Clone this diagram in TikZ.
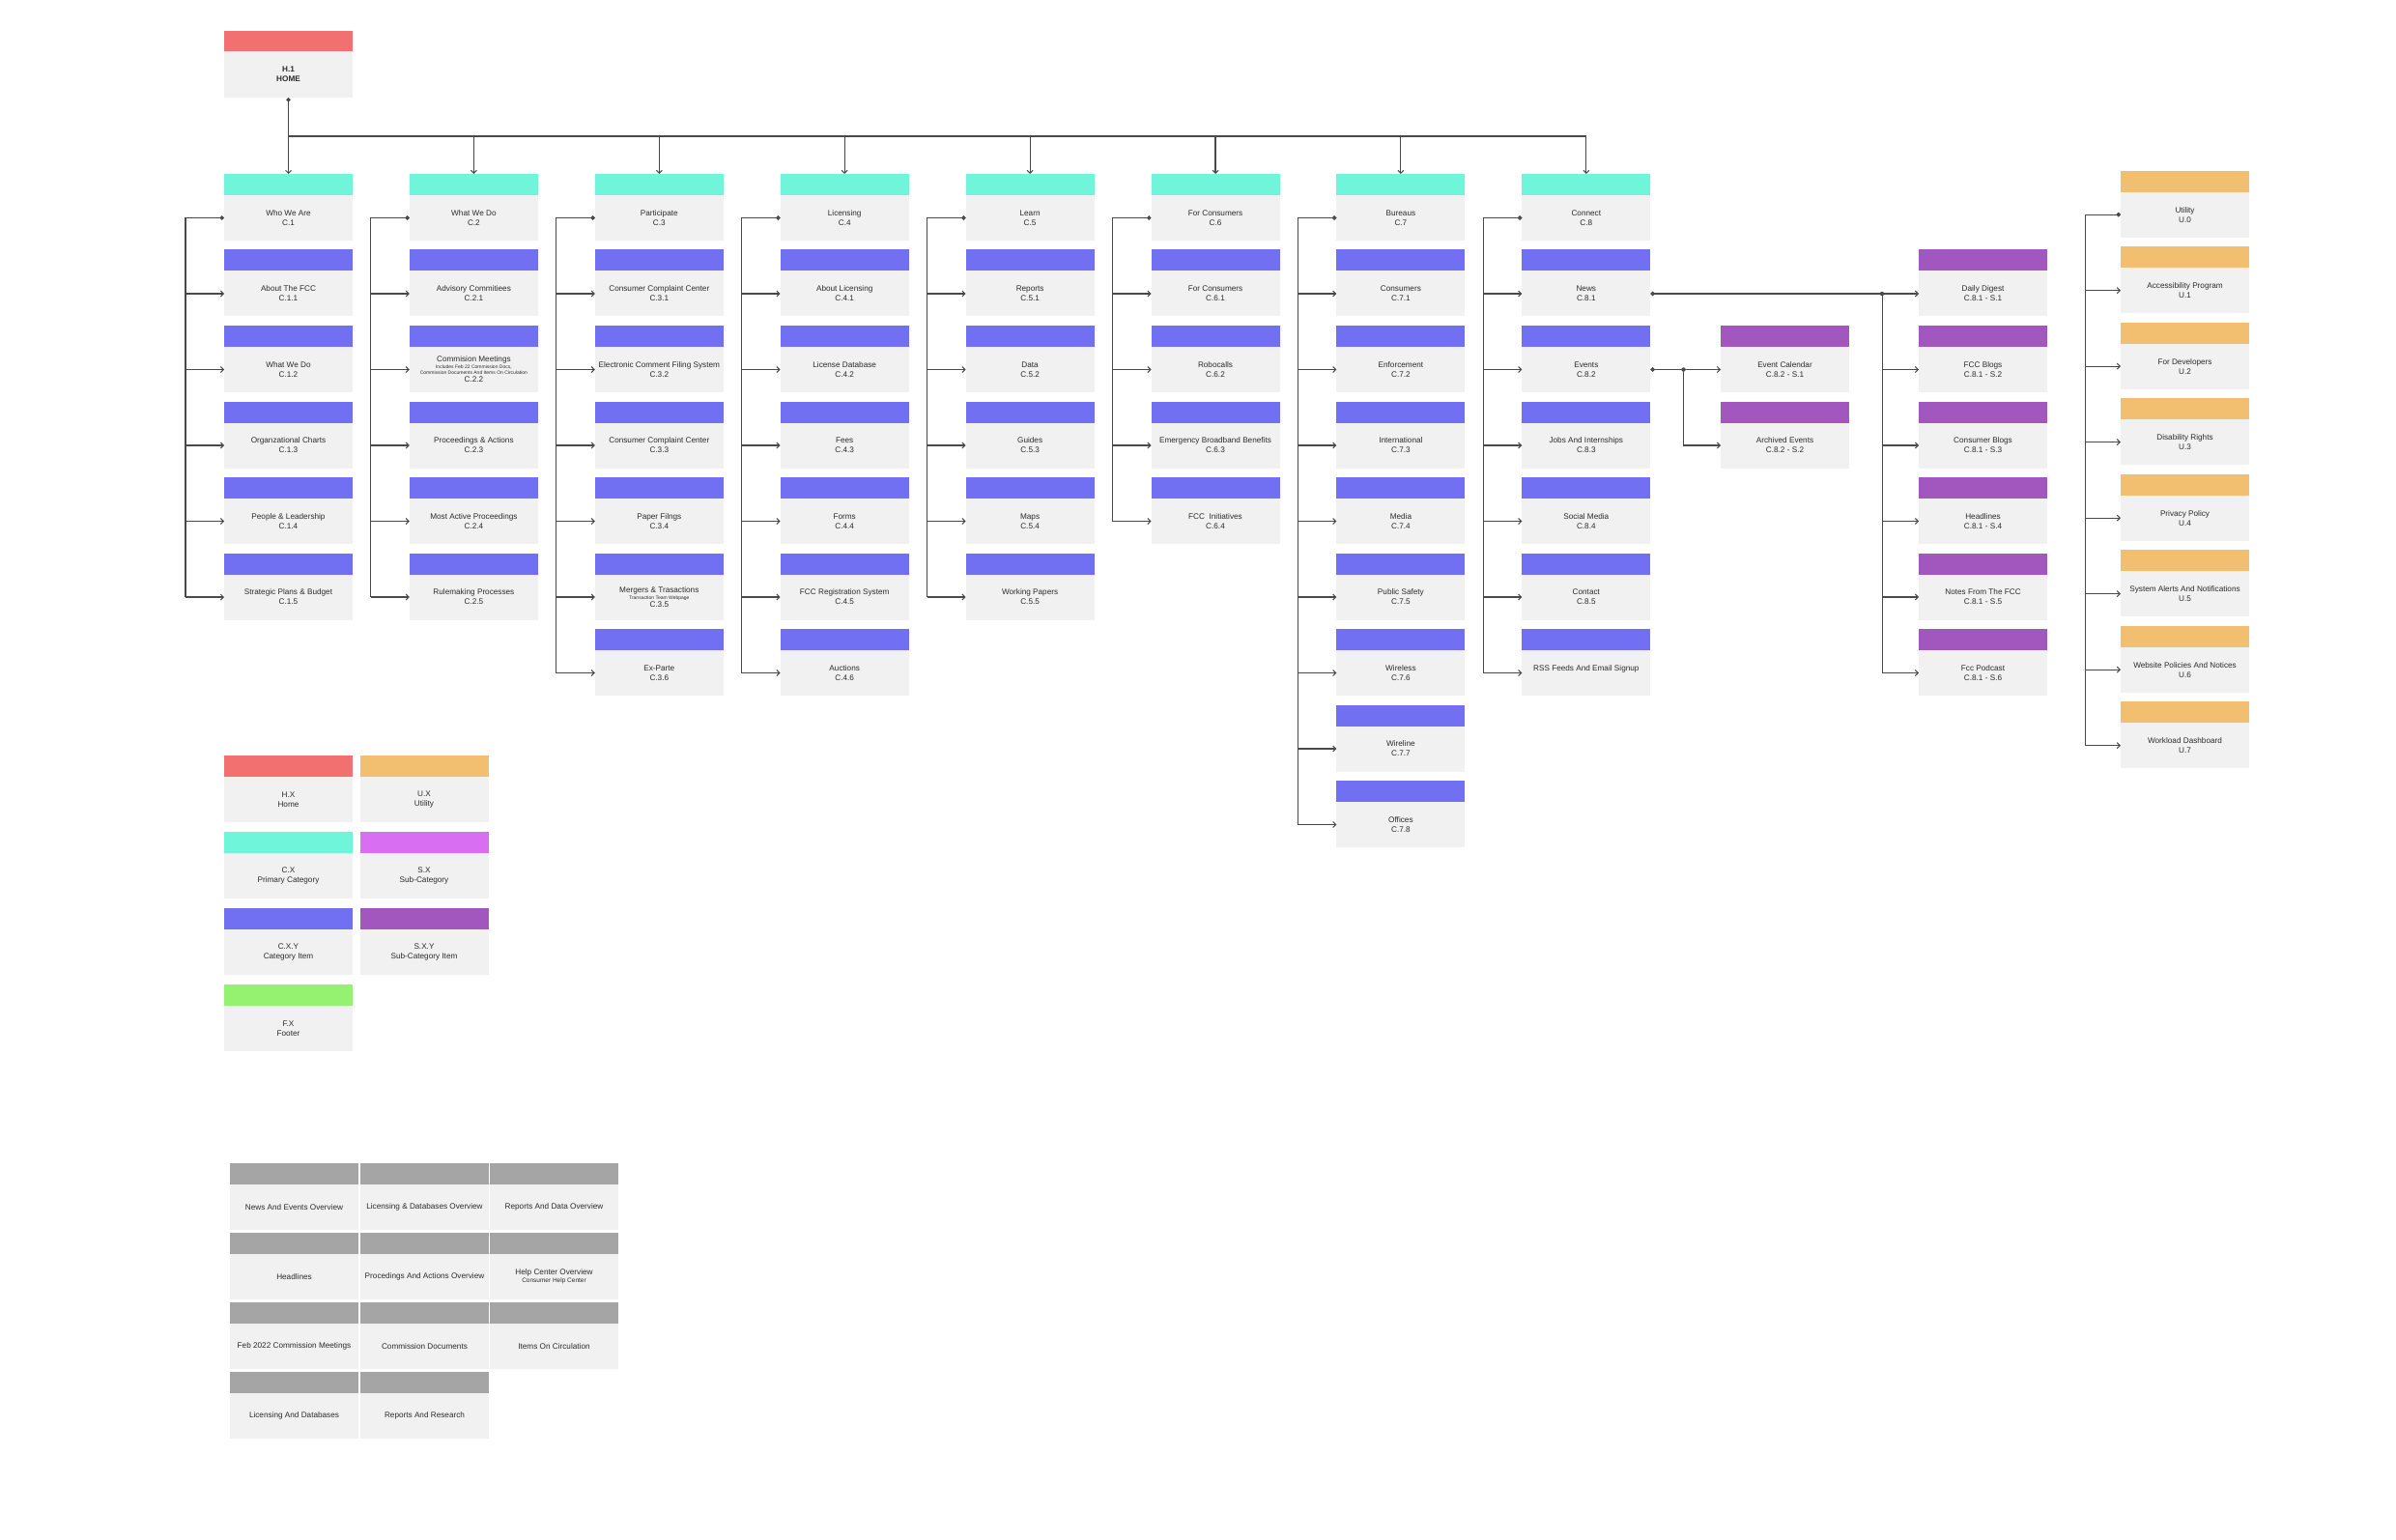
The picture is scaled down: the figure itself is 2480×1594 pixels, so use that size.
\documentclass[tikz,border=0pt]{standalone}
\usepackage{fontspec}
\setmainfont{Liberation Sans}
\usetikzlibrary{arrows.meta}
\definecolor{bodyc}{HTML}{F1F1F1}
\definecolor{txtc}{HTML}{2B2B2B}
\definecolor{linec}{HTML}{4A4A4A}
\definecolor{homec}{HTML}{F2706F}
\definecolor{catc}{HTML}{6FF5DA}
\definecolor{itemc}{HTML}{716FF2}
\definecolor{subc}{HTML}{A257BE}
\definecolor{utilc}{HTML}{F2BE6F}
\definecolor{pinkc}{HTML}{D86FF2}
\definecolor{footc}{HTML}{95F271}
\definecolor{grayc}{HTML}{A5A5A5}
\newcommand\mkbox[5]{%
  \node[bodybox] (#1) at ({#2},{#3+45.5}) {#5};
  \node[hdrbox, fill=#4, anchor=south] (#1h) at (#1.north) {};}
\newcommand\cb[5]{\mkbox{#1}{#2}{180+(#3)*78.5}{#4}{#5}}
\newcommand\ub[3]{\mkbox{#1}{2261.5}{176.6+(#2)*78.5}{utilc}{#3}}
\newcommand\trunk[3]{%
  \coordinate (#1t) at (#2,0);
  \draw[conn,{Circle[length=4.5pt]}-] (#1.west) -| (#1t |- #1#3.west);
  \foreach \i in {1,...,#3} {\draw[arr] (#1t |- #1\i.west) -- (#1\i.west);}}
\newcommand\smalltxt{\fontsize{5}{6}\selectfont}
\begin{document}
\begin{tikzpicture}[x=1pt,y=-1pt,
  bodybox/.style={fill=bodyc, minimum width=133pt, minimum height=47pt, inner sep=1pt, outer sep=0pt, align=center, text=txtc, font=\fontsize{8.2}{10}\selectfont},
  hdrbox/.style={minimum width=133pt, minimum height=22pt, inner sep=0pt, outer sep=0pt},
  conn/.style={draw=linec, line width=1.05pt},
  arr/.style={conn, -{Straight Barb[length=3pt,width=6pt]}}]
\fill[white] (0,0) rectangle (2480,1594);
\useasboundingbox (0,0) rectangle (2480,1594);

% Home
\node[bodybox, minimum height=48pt, font=\bfseries\fontsize{8.2}{10}\selectfont] (home) at (298.5,77) {H.1\\HOME};
\node[hdrbox, fill=homec, minimum height=21pt, anchor=south] (homeh) at (home.north) {};

% Column 1
\cb{c1}{298.5}{0}{catc}{Who We Are\\C.1}
\cb{c11}{298.5}{1}{itemc}{About The FCC\\C.1.1}
\cb{c12}{298.5}{2}{itemc}{What We Do\\C.1.2}
\cb{c13}{298.5}{3}{itemc}{Organzational Charts\\C.1.3}
\cb{c14}{298.5}{4}{itemc}{People \& Leadership\\C.1.4}
\cb{c15}{298.5}{5}{itemc}{Strategic Plans \& Budget\\C.1.5}
% Column 2
\cb{c2}{490.4}{0}{catc}{What We Do\\C.2}
\cb{c21}{490.4}{1}{itemc}{Advisory Commitiees\\C.2.1}
\cb{c22}{490.4}{2}{itemc}{Commision Meetings\\[-3.5pt]{\smalltxt Includes Feb 22 Commission Docs,}\\[-4pt]{\smalltxt Commission Documents And Items On Circulation}\\[-1.5pt]C.2.2}
\cb{c23}{490.4}{3}{itemc}{Proceedings \& Actions\\C.2.3}
\cb{c24}{490.4}{4}{itemc}{Most Active Proceedings\\C.2.4}
\cb{c25}{490.4}{5}{itemc}{Rulemaking Processes\\C.2.5}
% Column 3
\cb{c3}{682.3}{0}{catc}{Participate\\C.3}
\cb{c31}{682.3}{1}{itemc}{Consumer Complaint Center\\C.3.1}
\cb{c32}{682.3}{2}{itemc}{Electronic Comment Filing System\\C.3.2}
\cb{c33}{682.3}{3}{itemc}{Consumer Complaint Center\\C.3.3}
\cb{c34}{682.3}{4}{itemc}{Paper Filngs\\C.3.4}
\cb{c35}{682.3}{5}{itemc}{Mergers \& Trasactions\\[-3pt]{\smalltxt Transaction Team Webpage}\\[-1.5pt]C.3.5}
\cb{c36}{682.3}{6}{itemc}{Ex-Parte\\C.3.6}
% Column 4
\cb{c4}{874.2}{0}{catc}{Licensing\\C.4}
\cb{c41}{874.2}{1}{itemc}{About Licensing\\C.4.1}
\cb{c42}{874.2}{2}{itemc}{License Database\\C.4.2}
\cb{c43}{874.2}{3}{itemc}{Fees\\C.4.3}
\cb{c44}{874.2}{4}{itemc}{Forms\\C.4.4}
\cb{c45}{874.2}{5}{itemc}{FCC Registration System\\C.4.5}
\cb{c46}{874.2}{6}{itemc}{Auctions\\C.4.6}
% Column 5
\cb{c5}{1066.1}{0}{catc}{Learn\\C.5}
\cb{c51}{1066.1}{1}{itemc}{Reports\\C.5.1}
\cb{c52}{1066.1}{2}{itemc}{Data\\C.5.2}
\cb{c53}{1066.1}{3}{itemc}{Guides\\C.5.3}
\cb{c54}{1066.1}{4}{itemc}{Maps\\C.5.4}
\cb{c55}{1066.1}{5}{itemc}{Working Papers\\C.5.5}
% Column 6
\cb{c6}{1258.0}{0}{catc}{For Consumers\\C.6}
\cb{c61}{1258.0}{1}{itemc}{For Consumers\\C.6.1}
\cb{c62}{1258.0}{2}{itemc}{Robocalls\\C.6.2}
\cb{c63}{1258.0}{3}{itemc}{Emergency Broadband Benefits\\C.6.3}
\cb{c64}{1258.0}{4}{itemc}{FCC\ \ Initiatives\\C.6.4}
% Column 7
\cb{c7}{1449.9}{0}{catc}{Bureaus\\C.7}
\cb{c71}{1449.9}{1}{itemc}{Consumers\\C.7.1}
\cb{c72}{1449.9}{2}{itemc}{Enforcement\\C.7.2}
\cb{c73}{1449.9}{3}{itemc}{International\\C.7.3}
\cb{c74}{1449.9}{4}{itemc}{Media\\C.7.4}
\cb{c75}{1449.9}{5}{itemc}{Public Safety\\C.7.5}
\cb{c76}{1449.9}{6}{itemc}{Wireless\\C.7.6}
\cb{c77}{1449.9}{7}{itemc}{Wireline\\C.7.7}
\cb{c78}{1449.9}{8}{itemc}{Offices\\C.7.8}
% Column 8
\cb{c8}{1641.8}{0}{catc}{Connect\\C.8}
\cb{c81}{1641.8}{1}{itemc}{News\\C.8.1}
\cb{c82}{1641.8}{2}{itemc}{Events\\C.8.2}
\cb{c83}{1641.8}{3}{itemc}{Jobs And Internships\\C.8.3}
\cb{c84}{1641.8}{4}{itemc}{Social Media\\C.8.4}
\cb{c85}{1641.8}{5}{itemc}{Contact\\C.8.5}
\cb{c86}{1641.8}{6}{itemc}{RSS Feeds And Email Signup\\~}
% Event subcategories
\cb{e1}{1847.5}{2}{subc}{Event Calendar\\C.8.2 - S.1}
\cb{e2}{1847.5}{3}{subc}{Archived Events\\C.8.2 - S.2}
% News subcategories
\cb{n1}{2052.5}{1}{subc}{Daily Digest\\C.8.1 - S.1}
\cb{n2}{2052.5}{2}{subc}{FCC Blogs\\C.8.1 - S.2}
\cb{n3}{2052.5}{3}{subc}{Consumer Blogs\\C.8.1 - S.3}
\cb{n4}{2052.5}{4}{subc}{Headlines\\C.8.1 - S.4}
\cb{n5}{2052.5}{5}{subc}{Notes From The FCC\\C.8.1 - S.5}
\cb{n6}{2052.5}{6}{subc}{Fcc Podcast\\C.8.1 - S.6}
% Utility
\ub{u}{0}{Utility\\U.0}
\ub{u1}{1}{Accessibility Program\\U.1}
\ub{u2}{2}{For Developers\\U.2}
\ub{u3}{3}{Disability Rights\\U.3}
\ub{u4}{4}{Privacy Policy\\U.4}
\ub{u5}{5}{System Alerts And Notifications\\U.5}
\ub{u6}{6}{Website Policies And Notices\\U.6}
\ub{u7}{7}{Workload Dashboard\\U.7}

% Legend
\mkbox{lh}{298.5}{782}{homec}{H.X\\Home}
\mkbox{lu}{439.0}{782}{utilc}{U.X\\Utility}
\mkbox{lc}{298.5}{861}{catc}{C.X\\Primary Category}
\mkbox{ls}{439.0}{861}{pinkc}{S.X\\Sub-Category}
\mkbox{lci}{298.5}{940}{itemc}{C.X.Y\\Category Item}
\mkbox{lsi}{439.0}{940}{subc}{S.X.Y\\Sub-Category Item}
\mkbox{lf}{298.5}{1019}{footc}{F.X\\Footer}

% Gray grid
\mkbox{g11}{304.5}{1204}{grayc}{News And Events Overview}
\mkbox{g12}{439.5}{1204}{grayc}{Licensing \& Databases Overview}
\mkbox{g13}{573.5}{1204}{grayc}{Reports And Data Overview}
\mkbox{g21}{304.5}{1276}{grayc}{Headlines}
\mkbox{g22}{439.5}{1276}{grayc}{Procedings And Actions Overview}
\mkbox{g23}{573.5}{1276}{grayc}{Help Center Overview\\[-2pt]{\fontsize{6.5}{8}\selectfont Consumer Help Center}}
\mkbox{g31}{304.5}{1348}{grayc}{Feb 2022 Commission Meetings}
\mkbox{g32}{439.5}{1348}{grayc}{Commission Documents}
\mkbox{g33}{573.5}{1348}{grayc}{Items On Circulation}
\mkbox{g41}{304.5}{1420}{grayc}{Licensing And Databases}
\mkbox{g42}{439.5}{1420}{grayc}{Reports And Research}

% Home connectors
\coordinate (bus) at (0,141);
\draw[conn,{Circle[length=4.5pt]}-{Straight Barb[length=3pt,width=6pt]}] (home.south) -- (c1h.north);
\draw[conn] (home.south |- bus) -- (c8h.north |- bus);
\foreach \k in {2,...,8} {\draw[arr] (c\k h.north |- bus) -- (c\k h.north);}

% Column trunks
\trunk{c1}{192.0}{5}
\trunk{c2}{383.9}{5}
\trunk{c3}{575.8}{6}
\trunk{c4}{767.7}{6}
\trunk{c5}{959.6}{5}
\trunk{c6}{1151.5}{4}
\trunk{c7}{1343.4}{8}
\trunk{c8}{1535.3}{6}
\trunk{u}{2158.0}{7}

% Events
\coordinate (ej) at (1742.5,0);
\draw[conn,{Circle[length=4.5pt]}-{Straight Barb[length=3pt,width=6pt]}] (c82.east) -- (e1.west);
\fill[linec] (ej |- c82.east) circle (2.2pt);
\draw[arr] (ej |- c82.east) |- (e2.west);

% News
\coordinate (nj) at (1948.0,0);
\draw[conn,{Circle[length=4.5pt]}-{Straight Barb[length=3pt,width=6pt]}] (c81.east) -- (n1.west);
\fill[linec] (nj |- c81.east) circle (2.2pt);
\draw[conn] (nj |- c81.east) -- (nj |- n6.west);
\foreach \i in {2,...,6} {\draw[arr] (nj |- n\i.west) -- (n\i.west);}
\end{tikzpicture}
\end{document}
